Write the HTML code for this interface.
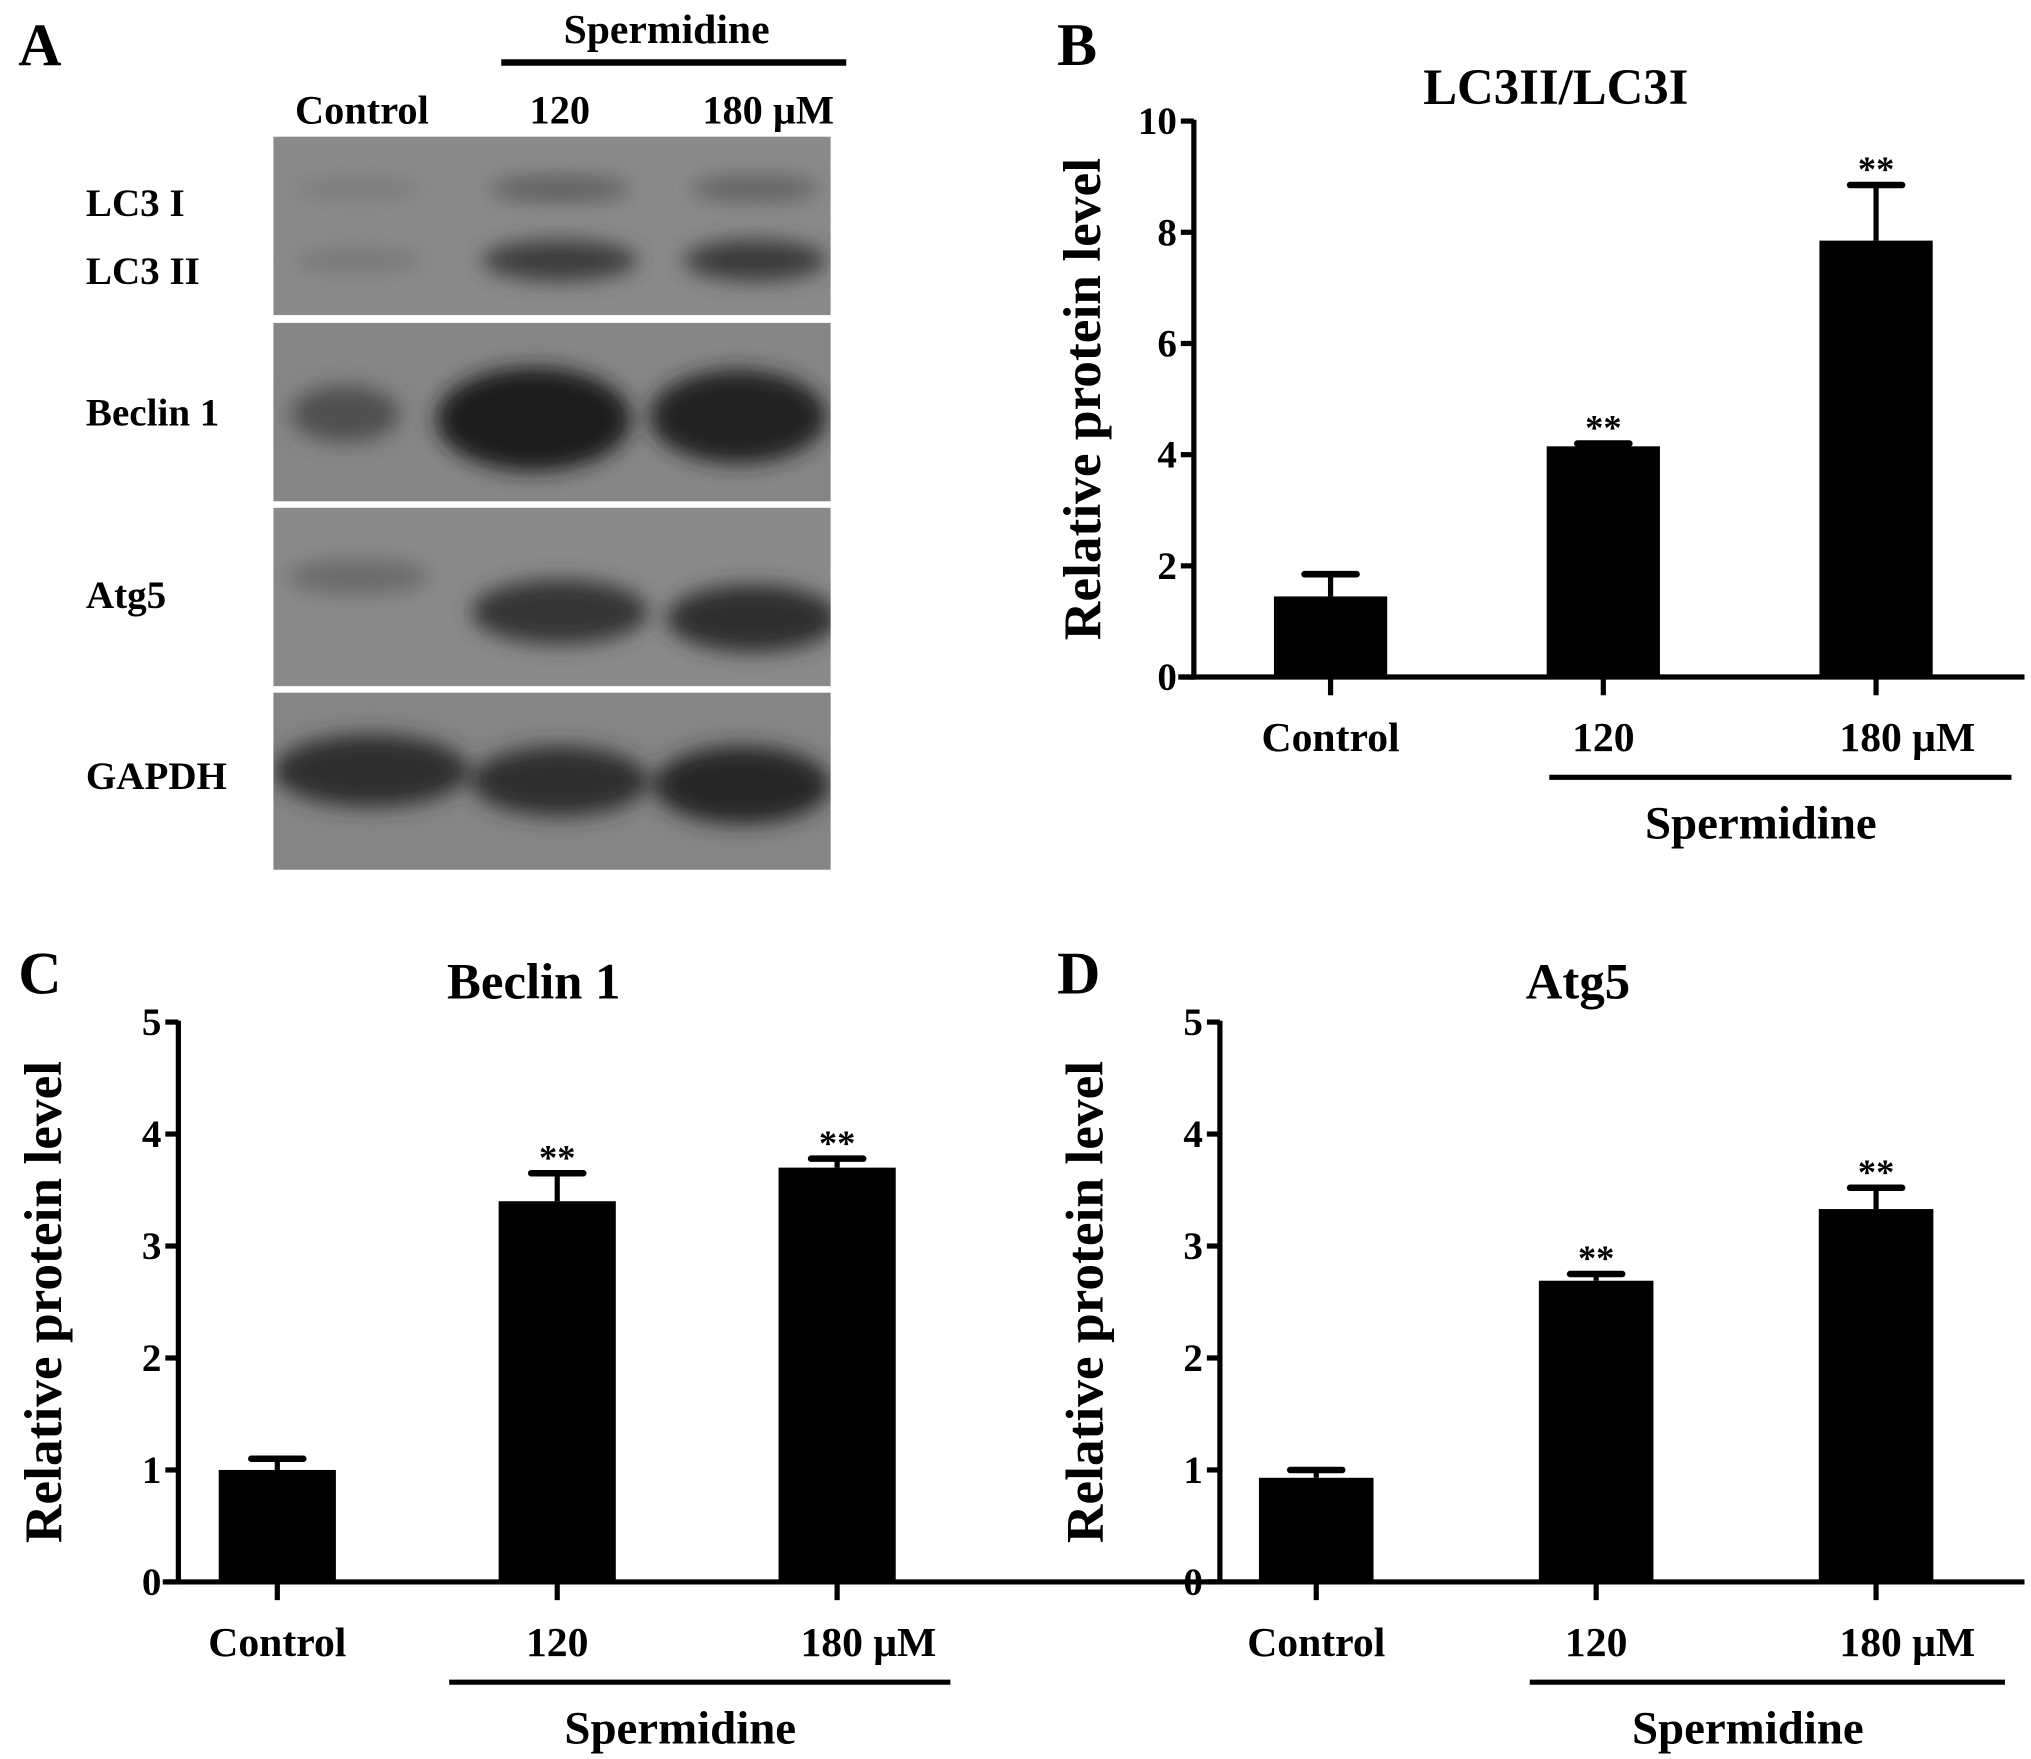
<!DOCTYPE html>
<html><head><meta charset="utf-8"><style>
html,body{margin:0;padding:0;background:#fff;}
svg{display:block;}
text{font-family:"Liberation Serif",serif;font-weight:bold;fill:#000;}
</style></head><body>
<svg id="fig" width="2031" height="1759" viewBox="0 0 1560 1351" preserveAspectRatio="none" xmlns="http://www.w3.org/2000/svg">
<defs>
<filter id="blur" x="-30%" y="-60%" width="160%" height="220%"><feGaussianBlur stdDeviation="8"/></filter>
<clipPath id="blotclip"><rect x="210" y="105" width="428" height="563"/></clipPath>
</defs>
<g>
<text x="14" y="50" font-size="46">A</text>
<text x="512" y="33" font-size="32" text-anchor="middle">Spermidine</text>
<line x1="385" y1="48" x2="650" y2="48" stroke="#000" stroke-width="5"/>
<text x="278" y="95" font-size="31" text-anchor="middle">Control</text>
<text x="430" y="95" font-size="31" text-anchor="middle">120</text>
<text x="590" y="95" font-size="31" text-anchor="middle">180 μM</text>
<rect x="210" y="105" width="428" height="137" fill="#8a8a8a"/>
<rect x="210" y="248" width="428" height="137" fill="#868686"/>
<rect x="210" y="390" width="428" height="137" fill="#8a8a8a"/>
<rect x="210" y="532" width="428" height="136" fill="#858585"/>
<g clip-path="url(#blotclip)"><g filter="url(#blur)">
<ellipse cx="275" cy="145" rx="50" ry="8" fill="#7a7a7a"/>
<ellipse cx="430" cy="145" rx="55" ry="10" fill="#5f5f5f"/>
<ellipse cx="580" cy="145" rx="50" ry="10" fill="#626262"/>
<ellipse cx="275" cy="200" rx="50" ry="9" fill="#777"/>
<ellipse cx="430" cy="200" rx="60" ry="16" fill="#3e3e3e"/>
<ellipse cx="580" cy="200" rx="55" ry="16" fill="#3a3a3a"/>
<ellipse cx="265" cy="318" rx="42" ry="22" fill="#4f4f4f"/>
<ellipse cx="410" cy="322" rx="75" ry="40" fill="#1e1e1e"/>
<ellipse cx="567" cy="320" rx="68" ry="36" fill="#222"/>
<ellipse cx="275" cy="443" rx="55" ry="14" fill="#6a6a6a"/>
<ellipse cx="430" cy="470" rx="68" ry="25" fill="#363636"/>
<ellipse cx="578" cy="475" rx="66" ry="26" fill="#2f2f2f"/>
<ellipse cx="285" cy="592" rx="75" ry="28" fill="#2e2e2e"/>
<ellipse cx="430" cy="600" rx="68" ry="27" fill="#2d2d2d"/>
<ellipse cx="570" cy="603" rx="68" ry="30" fill="#252525"/>
</g></g>
<text x="66" y="166" font-size="30">LC3 I</text>
<text x="66" y="218" font-size="30">LC3 II</text>
<text x="66" y="327" font-size="30">Beclin 1</text>
<text x="66" y="467" font-size="30">Atg5</text>
<text x="66" y="606" font-size="30">GAPDH</text>
</g>
<g id="charts"></g>
</svg>
<script>
// Panel B: LC3II/LC3I
const categoriesB = ["Control", "120", "180 μM"];
const valuesB = [1.45, 4.15, 7.85];
const errorsB = [0.4, 0.05, 1.0];
const ticksB = [0, 2, 4, 6, 8, 10];
// Panel C: Beclin 1
const categoriesC = ["Control", "120", "180 μM"];
const valuesC = [1.0, 3.4, 3.7];
const errorsC = [0.1, 0.25, 0.08];
const ticksC = [0, 1, 2, 3, 4, 5];
// Panel D: Atg5
const categoriesD = ["Control", "120", "180 μM"];
const valuesD = [0.93, 2.69, 3.33];
const errorsD = [0.07, 0.06, 0.19];
const ticksD = [0, 1, 2, 3, 4, 5];
const sigB = ["", "**", "**"], sigC = ["", "**", "**"], sigD = ["", "**", "**"];

const NS = "http://www.w3.org/2000/svg";
const root = document.getElementById("charts");
function mk(tag, attrs, parent, txt) {
  const e = document.createElementNS(NS, tag);
  for (const k in attrs) e.setAttribute(k, attrs[k]);
  if (txt !== undefined) e.textContent = txt;
  parent.appendChild(e);
  return e;
}
function chart(cfg, cats, vals, errs, ticks, sig) {
  const g = mk("g", {}, root);
  
  
  const ymax = ticks[ticks.length - 1];
  const y = v => cfg.y0 - (v / ymax) * (cfg.y0 - cfg.y1);
  const x = i => cfg.xc0 + i * cfg.step;
  let t = mk("text", {x: cfg.lx, y: cfg.ly, "font-size": 46}, g, cfg.letter);
  
  
  t = mk("text", {x: cfg.tx, y: cfg.ty, "font-size": 39, "text-anchor": "middle"}, g, cfg.title);
  
  
  const ycx = cfg.ytx, ycy = (cfg.y0 + cfg.y1) / 2;
  t = mk("text", {x: ycx, y: ycy, "font-size": 41, "text-anchor": "middle", transform: `rotate(-90 ${ycx} ${ycy})`}, g, "Relative protein level");
  
  
  let l = mk("line", {x1: cfg.ax, y1: cfg.y1 - 1, x2: cfg.ax, y2: cfg.y0 + 2, stroke: "#000", "stroke-width": 4}, g);
  
  
  l = mk("line", {x1: cfg.ax - 12, y1: cfg.y0, x2: cfg.axEnd, y2: cfg.y0, stroke: "#000", "stroke-width": 4}, g);
  
  
  ticks.forEach(v => {
    const tl = mk("line", {x1: cfg.ax - 10, y1: y(v), x2: cfg.ax, y2: y(v), stroke: "#000", "stroke-width": 4}, g);
    
    
    const tt = mk("text", {x: cfg.ax - 13, y: y(v) + 10, "font-size": 30, "text-anchor": "end"}, g, String(v));
    
    
  });
  cats.forEach((c, i) => {
    const cx = x(i), top = y(vals[i]), etop = y(vals[i] + errs[i]);
    const eb = mk("line", {x1: cx, y1: top, x2: cx, y2: etop, stroke: "#000", "stroke-width": 4}, g);
    
    
    const cap = mk("line", {x1: cx - 20, y1: etop, x2: cx + 20, y2: etop, stroke: "#000", "stroke-width": 5, "stroke-linecap": "round"}, g);
    
    
    const r = mk("rect", {x: cx - cfg.bw / 2, y: top, width: cfg.bw, height: cfg.y0 - top, fill: "#000"}, g);
    
    
    const tk = mk("line", {x1: cx, y1: cfg.y0, x2: cx, y2: cfg.y0 + 14, stroke: "#000", "stroke-width": 4}, g);
    
    
    const lb = mk("text", {x: cx + (i === 2 ? 24 : 0), y: cfg.y0 + 57, "font-size": 32, "text-anchor": "middle"}, g, c);
    
    
    if (sig[i]) {
      const s = mk("text", {x: cx, y: etop - 3, "font-size": 28, "font-weight": "normal", "text-anchor": "middle"}, g, sig[i]);
      
      
    }
  });
  l = mk("line", {x1: cfg.bx1, y1: cfg.y0 + 77, x2: cfg.bx2, y2: cfg.y0 + 77, stroke: "#000", "stroke-width": 4}, g);
  
  
  t = mk("text", {x: (cfg.bx1 + cfg.bx2) / 2 - 15, y: cfg.y0 + 124, "font-size": 36, "text-anchor": "middle"}, g, "Spermidine");
  
  
}
chart({name: "chart-b-lc3", letter: "B", lx: 812, ly: 50, title: "LC3II/LC3I", tx: 1195, ty: 80, ytx: 845,
  ax: 917, axEnd: 1555, y0: 520, y1: 93, xc0: 1022, step: 209.5, bw: 87, bx1: 1190, bx2: 1545},
  categoriesB, valuesB, errorsB, ticksB, sigB);
chart({name: "chart-c-beclin1", letter: "C", lx: 14, ly: 763, title: "Beclin 1", tx: 410, ty: 767, ytx: 47,
  ax: 137, axEnd: 980, y0: 1215, y1: 785, xc0: 213, step: 215, bw: 90, bx1: 345, bx2: 730},
  categoriesC, valuesC, errorsC, ticksC, sigC);
chart({name: "chart-d-atg5", letter: "D", lx: 812, ly: 763, title: "Atg5", tx: 1212, ty: 767, ytx: 847,
  ax: 937, axEnd: 1555, y0: 1215, y1: 785, xc0: 1011, step: 215, bw: 88, bx1: 1175, bx2: 1540},
  categoriesD, valuesD, errorsD, ticksD, sigD);
</script>
</body></html>
